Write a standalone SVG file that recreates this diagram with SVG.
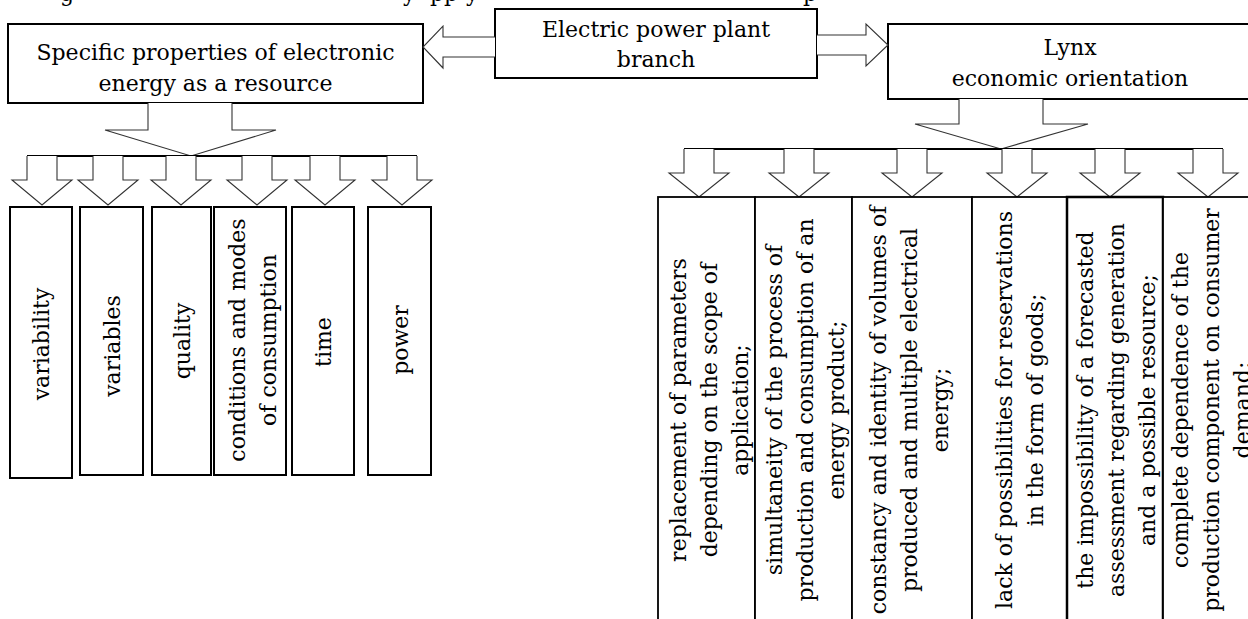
<svg xmlns="http://www.w3.org/2000/svg" width="1248" height="619" viewBox="0 0 1248 619">
<style>
.box{fill:#fff;stroke:#000;stroke-width:2}
.col{fill:#fff;stroke:#000;stroke-width:1.8}
.arr{fill:#fff;stroke:#333;stroke-width:1.1}
.bus{stroke:#000;stroke-width:2;fill:none}
.t{font-family:"DejaVu Serif","Liberation Serif",serif;font-size:22px;fill:#000;text-anchor:middle}
</style>
<rect width="1248" height="619" fill="#fff"/>
<text class="t" y="1" style="text-anchor:start"><tspan x="60">g</tspan><tspan x="403">y</tspan><tspan x="430">pp</tspan><tspan x="466">y</tspan><tspan x="803">p</tspan></text>

<g id="top-left">
<rect class="box" x="8" y="24" width="415" height="79"/>
<text class="t"><tspan x="215.5" y="60">Specific properties of electronic</tspan><tspan x="215.5" y="91">energy as a resource</tspan></text>
</g>
<g id="top-center">
<rect class="box" x="495" y="9" width="322" height="69"/>
<text class="t"><tspan x="656" y="37">Electric power plant</tspan><tspan x="656" y="67">branch</tspan></text>
</g>
<g id="top-right">
<rect class="box" x="888" y="24" width="364" height="75"/>
<text class="t"><tspan x="1070" y="55">Lynx</tspan><tspan x="1070" y="86">economic orientation</tspan></text>
</g>

<g id="connectors">
<polyline class="arr" points="495,37 443,37 443,26 423,47 443,68 443,57 495,57"/>
<polyline class="arr" points="817,35 866,35 866,24 888,45 866,66 866,55 817,55"/>
<polyline class="arr" points="148,103 148,130 105,130 191,156 276,130 232,130 232,103"/>
<line class="bus" x1="27" y1="156" x2="417" y2="156"/>
<polyline class="arr" points="27,156 27,180 12,180 42,205 72,180 57,180 57,156"/>
<polyline class="arr" points="93,156 93,180 78,180 108,205 138,180 123,180 123,156"/>
<polyline class="arr" points="166,156 166,180 151,180 181,205 211,180 196,180 196,156"/>
<polyline class="arr" points="242,156 242,180 227,180 257,205 287,180 272,180 272,156"/>
<polyline class="arr" points="310,156 310,180 295,180 325,205 355,180 340,180 340,156"/>
<polyline class="arr" points="387,156 387,180 372,180 402,205 432,180 417,180 417,156"/>
<polyline class="arr" points="959,99 959,124 915,124 1001,149 1088,124 1043,124 1043,99"/>
<line class="bus" x1="684" y1="149" x2="1223" y2="149"/>
<polyline class="arr" points="684,149 684,173 669,173 699,197 729,173 714,173 714,149"/>
<polyline class="arr" points="784,149 784,173 769,173 799,197 829,173 814,173 814,149"/>
<polyline class="arr" points="897,149 897,173 882,173 912,197 942,173 927,173 927,149"/>
<polyline class="arr" points="1002,149 1002,173 987,173 1017,197 1047,173 1032,173 1032,149"/>
<polyline class="arr" points="1095,149 1095,173 1080,173 1110,197 1140,173 1125,173 1125,149"/>
<polyline class="arr" points="1193,149 1193,173 1178,173 1208,197 1238,173 1223,173 1223,149"/>
</g>

<g id="l1"><rect class="box" x="10" y="207" width="62" height="271"/>
<text class="t" transform="translate(49,344) rotate(-90)">variability</text></g>
<g id="l2"><rect class="box" x="80" y="207" width="63" height="268"/>
<text class="t" transform="translate(119.5,346) rotate(-90)">variables</text></g>
<g id="l3"><rect class="box" x="152" y="207" width="59" height="268"/>
<text class="t" transform="translate(189.5,341) rotate(-90)">quality</text></g>
<g id="l4"><rect class="box" x="214" y="207" width="72" height="268"/>
<text class="t" transform="translate(245,340) rotate(-90)"><tspan x="0" y="0">conditions and modes</tspan><tspan x="0" y="31">of consumption</tspan></text></g>
<g id="l5"><rect class="box" x="292" y="207" width="62" height="268"/>
<text class="t" transform="translate(331,342) rotate(-90)">time</text></g>
<g id="l6"><rect class="box" x="368" y="207" width="63" height="268"/>
<text class="t" transform="translate(407.5,340) rotate(-90)">power</text></g>

<g id="r1"><rect class="col" x="658" y="197" width="97" height="430"/>
<text class="t" transform="translate(686,410) rotate(-90)"><tspan x="0" y="0">replacement of parameters</tspan><tspan x="0" y="31">depending on the scope of</tspan><tspan x="0" y="62">application;</tspan></text></g>
<g id="r2"><rect class="col" x="755" y="197" width="97" height="430"/>
<text class="t" transform="translate(782,410) rotate(-90)"><tspan x="0" y="0">simultaneity of the process of</tspan><tspan x="0" y="31">production and consumption of an</tspan><tspan x="0" y="62">energy product;</tspan></text></g>
<g id="r3"><rect class="col" x="852" y="197" width="120" height="430"/>
<text class="t" transform="translate(886,410) rotate(-90)"><tspan x="0" y="0">constancy and identity of volumes of</tspan><tspan x="0" y="31">produced and multiple electrical</tspan><tspan x="0" y="62">energy;</tspan></text></g>
<g id="r4"><rect class="col" x="972" y="197" width="95" height="430"/>
<text class="t" transform="translate(1012,410) rotate(-90)"><tspan x="0" y="0">lack of possibilities for reservations</tspan><tspan x="0" y="31">in the form of goods;</tspan></text></g>
<g id="r5"><rect class="col" x="1067" y="197" width="96" height="430" style="stroke-width:2.5"/>
<text class="t" transform="translate(1093,410) rotate(-90)"><tspan x="0" y="0">the impossibility of a forecasted</tspan><tspan x="0" y="31">assessment regarding generation</tspan><tspan x="0" y="62">and a possible resource;</tspan></text></g>
<g id="r6"><rect class="col" x="1163" y="197" width="97" height="430"/>
<text class="t" transform="translate(1188,410) rotate(-90)"><tspan x="0" y="0">complete dependence of the</tspan><tspan x="0" y="31">production component on consumer</tspan><tspan x="0" y="62">demand;</tspan></text></g>
</svg>
